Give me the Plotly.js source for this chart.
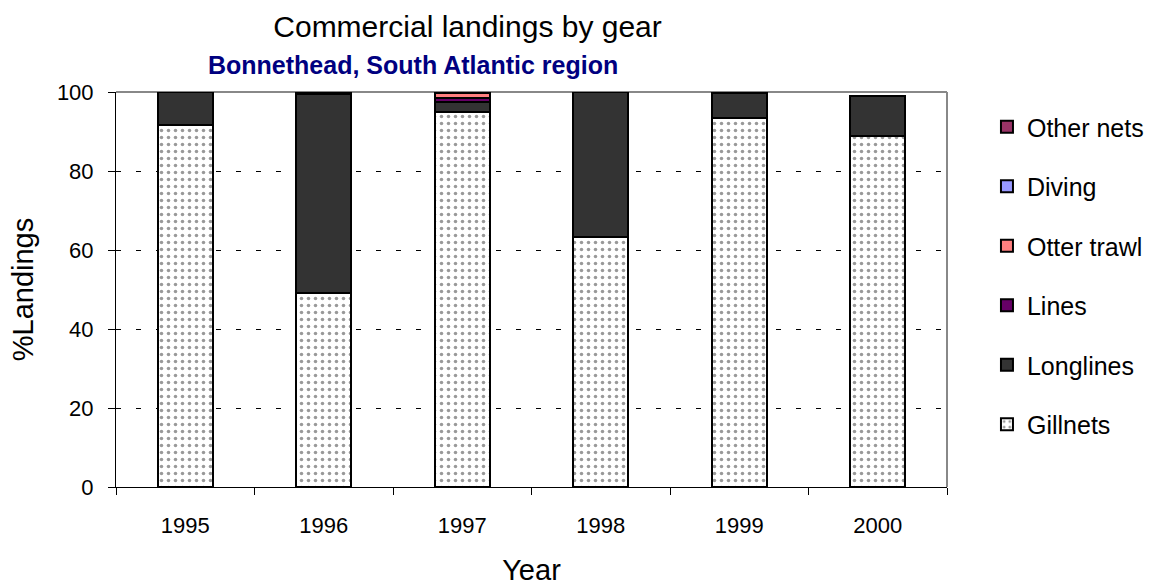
<!DOCTYPE html>
<html><head><meta charset="utf-8">
<script src="https://cdn.plot.ly/plotly-3.0.1.min.js"></script>
<style>html,body{margin:0;padding:0;background:#fff;}#chart{width:1153px;height:586px;}</style>
</head><body><div id="chart"></div>
<script>
const years = ['1995', '1996', '1997', '1998', '1999', '2000'];
const gillnets   = [91.6, 49.2, 95.0, 63.3, 93.5, 88.9];
const longlines  = [8.4, 50.4, 2.4, 36.7, 6.3, 10.2];
const lines      = [0.0, 0.2, 1.0, 0.0, 0.1, 0.0];
const otterTrawl = [0.0, 0.1, 1.4, 0.0, 0.0, 0.0];
const diving     = [0.0, 0.0, 0.1, 0.0, 0.0, 0.0];
const otherNets  = [0.0, 0.0, 0.1, 0.0, 0.0, 0.0];
const seriesNames = ['Gillnets', 'Longlines', 'Lines', 'Otter trawl', 'Diving', 'Other nets'];
const seriesColors = ['#ffffff', '#333333', '#660066', '#ff8080', '#9999ff', '#993366'];
const seriesValues = [gillnets, longlines, lines, otterTrawl, diving, otherNets];

const traces = seriesNames.map((name, i) => {
  const t = {
    type: 'bar', name: name, x: years, y: seriesValues[i],
    legendgroup: name, legendrank: 100 - i,
    marker: { color: seriesColors[i], line: { color: '#000', width: 2 } },
    width: 0.4
  };
  if (i === 0) {
    t.marker.pattern = { shape: '.', fgcolor: '#333', bgcolor: '#ffffff', size: 7, solidity: 0.2, fillmode: 'overlay' };
  }
  return t;
});

const layout = {
  width: 1153, height: 586,
  margin: { l: 116, r: 206, t: 92, b: 99, autoexpand: false },
  barmode: 'stack',
  paper_bgcolor: '#fff', plot_bgcolor: '#fff',
  font: { family: 'Liberation Sans, Arial, sans-serif', color: '#000', size: 22 },
  showlegend: true,
  legend: {
    xref: 'container', yref: 'container',
    x: 0.856, xanchor: 'left', y: 0.8225, yanchor: 'top',
    traceorder: 'grouped', tracegroupgap: 24, maxheight: 500,
    font: { size: 25 }, itemwidth: 30
  },
  xaxis: {
    type: 'category', ticks: 'outside', tickson: 'boundaries', ticklen: 7,
    tickcolor: '#000', showline: true, linecolor: '#000', linewidth: 1,
    showgrid: false, tickfont: { size: 22 }, ticklabelstandoff: 19,
    title: { text: 'Year', font: { size: 29 }, standoff: 24 }, automargin: false
  },
  yaxis: {
    range: [0, 100], tickvals: [0, 20, 40, 60, 80, 100], ticks: 'outside', ticklen: 7,
    tickcolor: '#000', showline: true, linecolor: '#000', linewidth: 1,
    showgrid: true, gridcolor: '#000', griddash: '5px,15px', gridwidth: 1,
    zeroline: false, tickfont: { size: 22 }, ticklabelstandoff: 10,
    title: { text: '%Landings', font: { size: 29 }, standoff: 14 }, automargin: false
  },
  shapes: [
    { type: 'line', layer: 'below', xref: 'paper', yref: 'paper', x0: 0, x1: 1, y0: 1, y1: 1, line: { color: '#888', width: 2 } },
    { type: 'line', xref: 'paper', yref: 'paper', x0: 1, x1: 1, y0: 0, y1: 1, line: { color: '#888', width: 2 } }
  ],
  title: { text: 'Commercial landings by gear', x: 0.4055, xanchor: 'center', y: 0.9556, yanchor: 'middle', font: { size: 30 } },
  annotations: [
    { text: '<b>Bonnethead, South Atlantic region</b>', xref: 'paper', yref: 'paper', x: 0.358, y: 1.0694, xanchor: 'center', yanchor: 'middle', showarrow: false, font: { size: 25, color: '#000080' } }
  ]
};

Plotly.newPlot('chart', traces, layout, { displayModeBar: false, staticPlot: true });
</script></body></html>
